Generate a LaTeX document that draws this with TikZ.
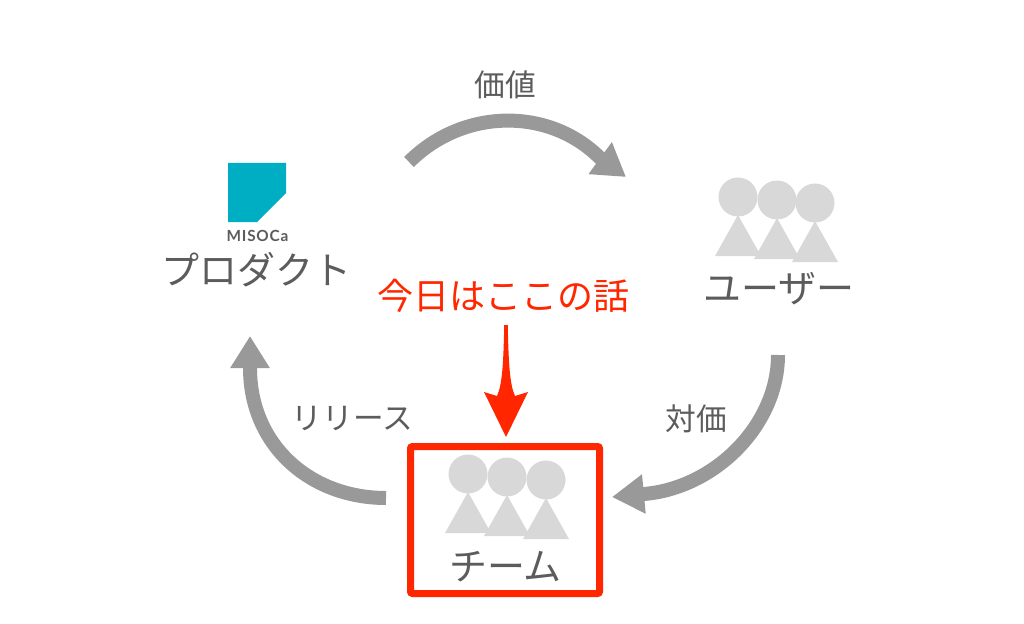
\documentclass[tikz,border=0pt]{standalone}
\usepackage{fontspec}
\usetikzlibrary{arrows.meta}
\newfontfamily\jpfont{Noto Sans CJK JP}
\newfontfamily\logofont[LetterSpace=5]{Lato}
\definecolor{txtgray}{HTML}{5C5C5C}
\definecolor{arcgray}{HTML}{999999}
\definecolor{persongray}{HTML}{D8D8D8}
\definecolor{hotred}{HTML}{FF2600}
\definecolor{logoteal}{HTML}{00AEC3}
\tikzset{
  x=0.75pt,y=-0.75pt,
  biglabel/.style={font=\jpfont\fontsize{28.5}{32}\selectfont,text=txtgray,inner sep=0pt},
  smalllabel/.style={font=\jpfont\fontsize{23}{27}\selectfont,text=txtgray,inner sep=0pt},
  flow/.style={draw=arcgray,line width=10.5pt,-{Triangle[length=24pt,width=28pt]}},
  person/.style={fill=persongray,draw=none},
}
\newcommand{\personat}[2]{%
  \fill[person] (#1,#2) circle[radius=19.5];
  \fill[person] (#1,#2+18) -- (#1+23,#2+59) -- (#1-23,#2+59) -- cycle;
}
\begin{document}
\begin{tikzpicture}
\useasboundingbox (0,0) rectangle (1024,624);
% logo
\fill[logoteal] (228,163) -- (286,163) -- (286,193) -- (257,222) -- (228,222) -- cycle;
\node[font=\logofont\bfseries\fontsize{11.5}{13}\selectfont,text=txtgray,inner sep=0pt] (logo) at (257.5,236) {MISOCa};
% labels
\node[biglabel] (product) at (256.5,270) {プロダクト};
\node[biglabel] (users) at (779,289) {ユーザー};
\node[biglabel] (team) at (505.5,567) {チーム};
\node[smalllabel] (value) at (505.5,85) {価値};
\node[smalllabel] (price) at (696,419) {対価};
\node[smalllabel] (release) at (352.5,418) {リリース};
\node[font=\jpfont\fontsize{27}{30}\selectfont,text=hotred,inner sep=0pt] (today) at (503,296) {今日はここの話};
% people
\personat{738}{197}\personat{777}{200}\personat{815}{203}
\personat{468}{474}\personat{507}{477}\personat{546}{480}
% box
\node[draw=hotred,line width=5.25pt,rounded corners=1.5pt,minimum width=141.75pt,minimum height=110.25pt,inner sep=0pt] (box) at (505,520) {};
% arcs
\coordinate (a1) at (409,162); \coordinate (a2) at (626,177);
\coordinate (b1) at (778,355); \coordinate (b2) at (612,497);
\coordinate (c1) at (386,498); \coordinate (c2) at (250,336);
\draw[flow] (a1) .. controls (463,108) and (549,107) .. (600,158) -- (a2);
\draw[flow] (b1) .. controls (778,425) and (715,488) .. (644,494) -- (b2);
\draw[flow] (c1) .. controls (310,498) and (250,445) .. (250,368) -- (c2);
% red arrow
\coordinate (r1) at (506,325); \coordinate (r2) at (506,437);
\fill[hotred] (r1) ++(-1.8,0) .. controls (503.5,365) and (502,385) .. (497,396)
  -- (484,392) -- (r2) -- (528,392) -- (515,396)
  .. controls (510,385) and (508.5,365) .. (507.8,325) -- cycle;
\end{tikzpicture}
\end{document}
